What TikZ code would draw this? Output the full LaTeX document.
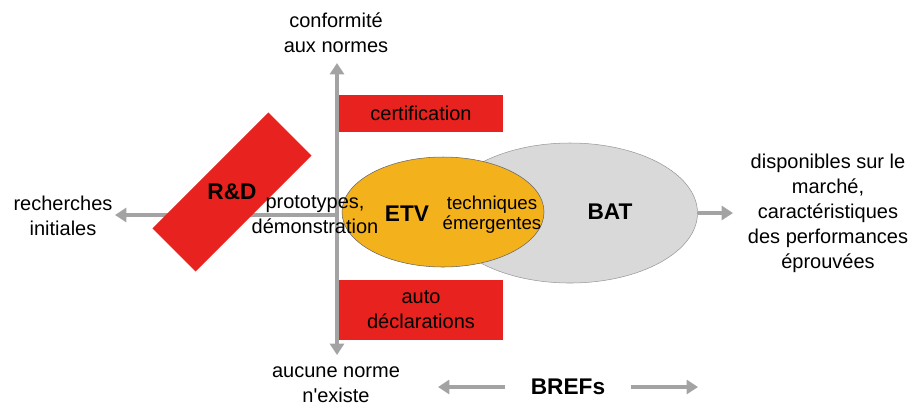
\documentclass[tikz,border=0pt]{standalone}
\usepackage{fontspec}
\setmainfont{Liberation Sans}
\newfontfamily\plainfont{Liberation Sans}
\usetikzlibrary{arrows.meta,shapes.geometric}
\definecolor{rdred}{HTML}{E8221E}
\definecolor{etvorange}{HTML}{F3B11C}
\definecolor{batgray}{HTML}{D9D9D9}
\definecolor{axisgray}{HTML}{A3A3A3}

\begin{document}
\begin{tikzpicture}[x=.75pt,y=-.75pt,
  every node/.style={font=\fontsize{15}{18.75}\selectfont,align=center,inner sep=0pt},
  big/.style={font=\fontsize{17}{20}\selectfont\bfseries},
  axis/.style={axisgray,line width=3pt},
  tip/.style={-{Triangle[length=8.5pt,width=10.5pt]}},
  redbox/.style={fill=rdred,minimum width=123pt}]
\useasboundingbox (0,0) rectangle (912,405);
% axes
\coordinate (top) at (337,63);
\coordinate (bottom) at (337,355);
\coordinate (left) at (115,215);
\draw[axis,{Triangle[length=8.5pt,width=10.5pt]}-{Triangle[length=8.5pt,width=10.5pt]}] (bottom) -- (top);
\draw[axis,tip] (top |- left) -- (left);
% ellipses
\node[ellipse,fill=batgray,draw=black!40,minimum width=191.25pt,minimum height=105pt] (bat) at (570,213) {};
\node[ellipse,fill=etvorange,draw=black!60,minimum width=151.5pt,minimum height=82.5pt] (etv) at (443,212) {};
\coordinate (market) at (733,213);
\draw[axis,tip] (bat.east) -- (market);
% red boxes
\node[redbox,minimum height=27.75pt] (cert) at (421,113.5) {certification};
\node[redbox,minimum height=45pt] (auto) at (421,310) {auto\\déclarations};
\node[redbox,minimum height=45.75pt,rotate=45] (rd) at (232,192) {};
\node[big] (rdlbl) at (rd.center) {R\&D};
% labels
\node (etvlbl) at (407,214) [big] {ETV};
\node[font=\fontsize{14}{15}\selectfont] (emerg) at (492,215) {techniques\\émergentes};
\node (batlbl) at (610,212) [big] {BAT};
\node (proto) at (315,215) {prototypes,\\démonstration};
\node (conf) at (336,33) {conformité\\aux normes};
\node (aucune) at (336,385) {aucune norme\\{\plainfont n'existe}};
\node (rech) at (63,216) {recherches\\initiales};
\node (dispo) at (828,213) {disponibles sur le\\marché,\\caractéristiques\\des performances\\éprouvées};
\node[big] (brefs) at (568,387) {BREFs};
\coordinate (brefsL) at (438,387);
\coordinate (brefsR) at (698,387);
\draw[axisgray,line width=2.5pt,tip] ([xshift=-19pt]brefs.west) -- (brefsL);
\draw[axisgray,line width=2.5pt,tip] ([xshift=19pt]brefs.east) -- (brefsR);
\end{tikzpicture}
\end{document}
